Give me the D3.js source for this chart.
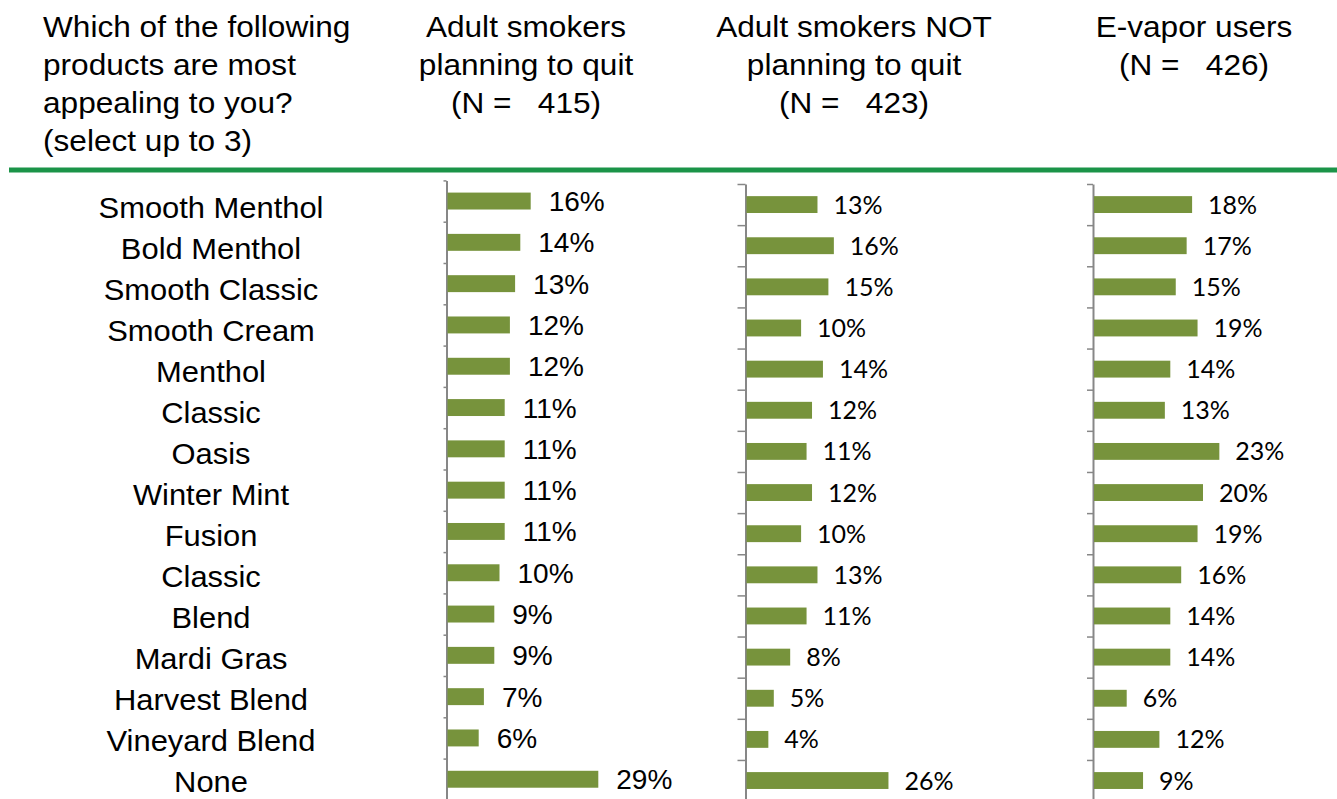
<!DOCTYPE html>
<html lang="en">
<head>
<meta charset="UTF-8"/>
<title>Most appealing products</title>
<script src="https://d3js.org/d3.v7.min.js"></script>
<style>
  body { margin: 0; background: #fff; }
  text { white-space: pre; }
</style>
</head>
<body>
<script>
var w = 1337;
var h = 799;

// ---- data ----
var categories = ["Smooth Menthol", "Bold Menthol", "Smooth Classic", "Smooth Cream", "Menthol",
                  "Classic", "Oasis", "Winter Mint", "Fusion", "Classic", "Blend", "Mardi Gras",
                  "Harvest Blend", "Vineyard Blend", "None"];
var quitting    = [16, 14, 13, 12, 12, 11, 11, 11, 11, 10, 9, 9, 7, 6, 29];
var notQuitting = [13, 16, 15, 10, 14, 12, 11, 12, 10, 13, 11, 8, 5, 4, 26];
var vapor       = [18, 17, 15, 19, 14, 13, 23, 20, 19, 16, 14, 14, 6, 12, 9];

var questionLines = ["Which of the following", "products are most", "appealing to you?", "(select up to 3)"];
var headerLines = [
  ["Adult smokers", "planning to quit", "(N =   415)"],
  ["Adult smokers NOT", "planning to quit", "(N =   423)"],
  ["E-vapor users", "(N =   426)"]
];

var barColor = "#77933c";
var axisColor = "#878787";

var svg = d3.select("body")
            .append("svg")
            .attr("width", w)
            .attr("height", h);

//---------- header ----------
svg.selectAll("text.question")
   .data(questionLines)
   .enter()
   .append("text")
   .attr("class", "question")
   .attr("transform", function(d, i) { return "translate(43," + (37 + i * 38) + ") scale(1.09,1)"; })
   .attr("font-family", "Liberation Sans, Arial, sans-serif")
   .attr("font-size", 29)
   .attr("fill", "#000")
   .text(function(d) { return d; });

var headerX = [526, 854, 1194];
headerLines.forEach(function(lines, k) {
  svg.selectAll("text.head" + k)
     .data(lines)
     .enter()
     .append("text")
     .attr("class", "head" + k)
     .attr("transform", function(d, i) { return "translate(" + headerX[k] + "," + (37 + i * 38) + ") scale(1.09,1)"; })
     .attr("text-anchor", "middle")
     .attr("font-family", "Liberation Sans, Arial, sans-serif")
     .attr("font-size", 29)
     .attr("fill", "#000")
     .text(function(d) { return d; });
});

// green separator
svg.append("line")
   .attr("x1", 9).attr("x2", w)
   .attr("y1", 170).attr("y2", 170)
   .attr("stroke", "#1b9448")
   .attr("stroke-width", 5);

//---------- category labels ----------
var catScale = d3.scaleBand()
                 .domain(d3.range(categories.length))
                 .range([186, 186 + 15 * 41]);

svg.selectAll("text.cat")
   .data(categories)
   .enter()
   .append("text")
   .attr("class", "cat")
   .attr("transform", function(d, i) {
     return "translate(211," + (catScale(i) + catScale.bandwidth() / 2 + 11) + ") scale(1.03,1)";
   })
   .attr("text-anchor", "middle")
   .attr("font-family", "Liberation Sans, Arial, sans-serif")
   .attr("font-size", 30)
   .attr("fill", "#000")
   .text(function(d) { return d; });

//---------- panels ----------
var panels = [
  { data: quitting,    x0: 446.5, pxPer: 5.2,  top: 180.4, step: 41.3, tick: 3, font: "Liberation Sans, Arial, sans-serif", size: 28, gap: 18, dy: 10 },
  { data: notQuitting, x0: 745.5, pxPer: 5.46, top: 184,   step: 41.14, tick: 8, font: "Lato, sans-serif", size: 25, gap: 16, dy: 9 },
  { data: vapor,       x0: 1093,  pxPer: 5.45, top: 184,   step: 41.14, tick: 6, font: "Lato, sans-serif", size: 25, gap: 16, dy: 9 }
];

panels.forEach(function(p, k) {
  var n = p.data.length;
  var maxV = 30;
  var xScale = d3.scaleLinear()
                 .domain([0, maxV])
                 .range([p.x0, p.x0 + maxV * p.pxPer]);

  var yScale = d3.scaleBand()
                 .domain(d3.range(n))
                 .range([p.top, p.top + n * p.step])
                 .paddingInner(0.59)
                 .paddingOuter(0.295);

  // axis with ticks on category boundaries
  var yLin = d3.scaleLinear()
               .domain([0, n])
               .range([p.top, p.top + n * p.step]);
  var axis = d3.axisLeft(yLin)
               .tickValues(d3.range(n + 1))
               .tickFormat("")
               .tickSizeInner(p.tick)
               .tickSizeOuter(0);

  var g = svg.append("g")
             .attr("transform", "translate(" + p.x0 + ",0)")
             .call(axis);
  g.select(".domain").attr("stroke", axisColor).attr("stroke-width", 2);
  g.selectAll(".tick line").attr("stroke", axisColor).attr("stroke-width", 1.5);

  svg.selectAll("rect.bar" + k)
     .data(p.data)
     .enter()
     .append("rect")
     .attr("class", "bar" + k)
     .attr("x", xScale(0) + 1)
     .attr("y", function(d, i) { return yScale(i); })
     .attr("width", function(d) { return xScale(d) - xScale(0); })
     .attr("height", yScale.bandwidth())
     .attr("fill", barColor);

  svg.selectAll("text.val" + k)
     .data(p.data)
     .enter()
     .append("text")
     .attr("class", "val" + k)
     .attr("x", function(d) { return xScale(d) + 1 + p.gap; })
     .attr("y", function(d, i) { return yScale(i) + yScale.bandwidth() / 2 + p.dy; })
     .attr("font-family", p.font)
     .attr("font-size", p.size)
     .attr("fill", "#000")
     .text(function(d) { return d + "%"; });
});
</script>
</body>
</html>
